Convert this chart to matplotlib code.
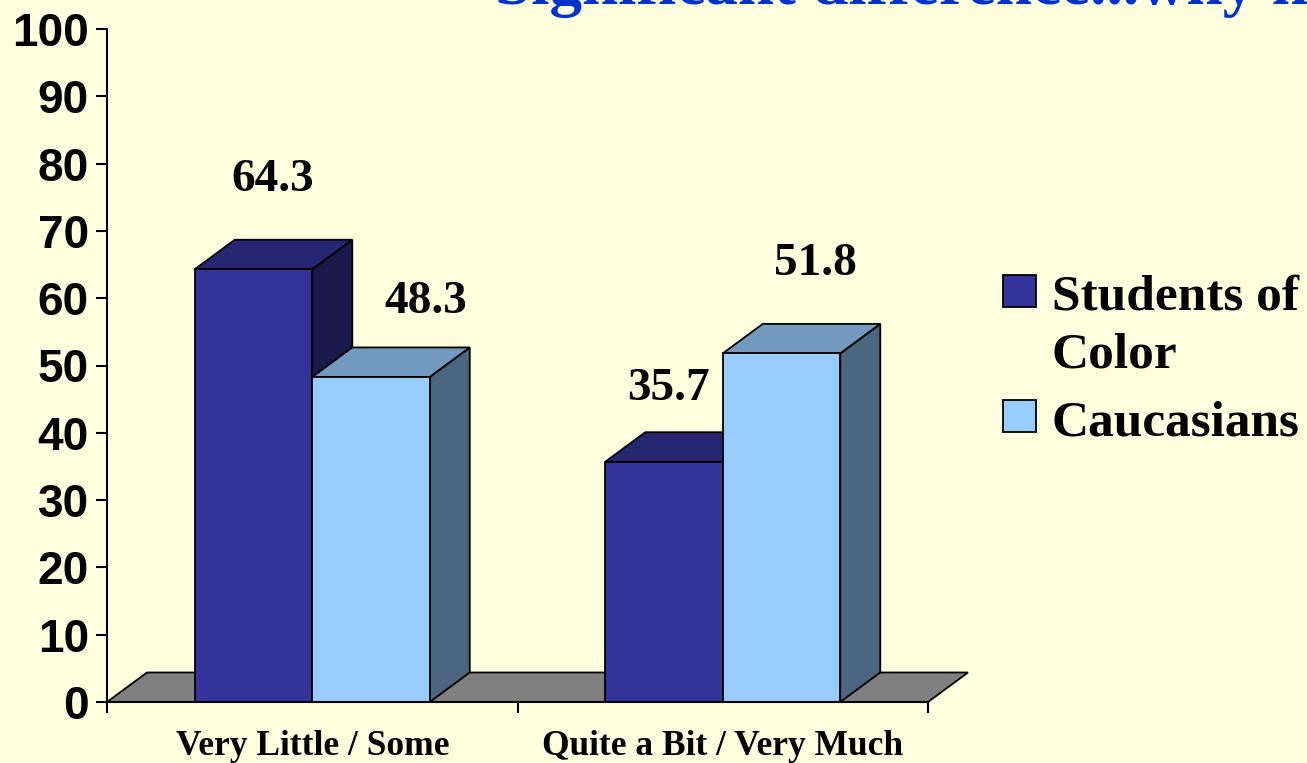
import matplotlib
matplotlib.use("Agg")
import matplotlib.pyplot as plt
from matplotlib.patches import Polygon, Rectangle

# ---------------- data ----------------
categories = ["Very Little / Some", "Quite a Bit / Very Much"]
series_names = ["Students of\nColor", "Caucasians"]
students_of_color = [64.3, 35.7]
caucasians = [48.3, 51.8]
yticks = list(range(0, 101, 10))
title_text = "Significant difference...why not?"

# ---------------- style ----------------
W, H = 1307, 763
BG = "#FFFFE0"
front_cols = ["#333399", "#99CCFF"]
top_cols = ["#262673", "#7399BF"]
side_cols = ["#1A1A4C", "#4C6680"]
floor_col = "#808080"
# label offsets (pixels) from front-top centre of each bar: [series][category]
label_offsets = [[(19, 78), (4, 62)], [(55, 64), (34, 78)]]

fig = plt.figure(figsize=(W / 100, H / 100), dpi=100, facecolor=BG)
ax = fig.add_axes([107 / W, 61 / H, 821 / W, 673 / H])
ax.set_facecolor("none")
ax.set_xlim(0, 2)
ax.set_ylim(0, 100)

DX = 40 / 410.5   # depth in x data units
DY = 29.5 / 6.73  # depth in y data units
bw = 117.5 / 410.5

# floor
ax.add_patch(Polygon([(0, 0), (DX, DY), (2 + DX, DY), (2, 0)], closed=True,
                     fc=floor_col, ec="black", lw=1.3, clip_on=False, zorder=1))

series = [students_of_color, caucasians]
for s, vals in enumerate(series):
    z = 2 + s
    for i, v in enumerate(vals):
        x0 = i + 0.5 - bw + s * bw
        x1 = x0 + bw
        ax.add_patch(Polygon([(x1, 0), (x1 + DX, DY), (x1 + DX, v + DY), (x1, v)],
                             closed=True, fc=side_cols[s], ec="black", lw=1.3,
                             clip_on=False, zorder=z))
        ax.add_patch(Polygon([(x0, v), (x0 + DX, v + DY), (x1 + DX, v + DY), (x1, v)],
                             closed=True, fc=top_cols[s], ec="black", lw=1.3,
                             clip_on=False, zorder=z))
    ax.bar([i + 0.5 - bw + s * bw for i in range(len(vals))], vals, width=bw,
           align="edge", color=front_cols[s], edgecolor="black", lw=1.3,
           zorder=2 + s, clip_on=False)
    for i, v in enumerate(vals):
        xc = i + 0.5 - bw + s * bw + bw / 2
        ax.annotate(f"{v:.1f}", xy=(xc, v), xytext=label_offsets[s][i],
                    textcoords="offset pixels", ha="center", va="baseline",
                    fontsize=34, family="Liberation Serif", weight="bold",
                    color="black", zorder=10, annotation_clip=False)

# axes
for sp in ["top", "right"]:
    ax.spines[sp].set_visible(False)
for sp in ["left", "bottom"]:
    ax.spines[sp].set_linewidth(1.5)
    ax.spines[sp].set_zorder(6)
ax.set_yticks(yticks)
ax.set_yticklabels([str(t) for t in yticks], fontsize=33,
                   family="Liberation Sans", weight="bold")
ax.tick_params(axis="y", direction="out", length=8, width=1.5, pad=5)
ax.set_xticks([0, 1, 2])
ax.set_xticklabels([])
ax.set_xticks([i + 0.5 for i in range(len(categories))], minor=True)
ax.set_xticklabels(categories, minor=True, fontsize=25.5,
                   family="Liberation Serif", weight="bold")
ax.tick_params(axis="x", which="major", direction="out", length=8, width=1.5)
ax.tick_params(axis="x", which="minor", length=0, pad=20)

# legend (manual)
leg_sq_x = 1003
leg_baselines = [310, 435]
line_step = 58
for s, name in enumerate(series_names):
    base = leg_baselines[s]
    fig.add_artist(Rectangle((leg_sq_x / W, (H - base + 3) / H), 33 / W, 32 / H,
                             transform=fig.transFigure, fc=front_cols[s],
                             ec="black", lw=1.3))
    for k, line in enumerate(name.split("\n")):
        fig.text(1052 / W, (H - base - k * line_step) / H, line, fontsize=37,
                 family="Liberation Serif", weight="bold", va="baseline",
                 ha="left", color="black")

# title (cut off at top like the reference)
fig.text(495 / W, 1 - 4 / H, title_text, fontsize=47, family="Liberation Serif",
         weight="bold", color="#0033CC", ha="left", va="baseline")

fig.savefig("out.png", dpi=100, facecolor=BG)
